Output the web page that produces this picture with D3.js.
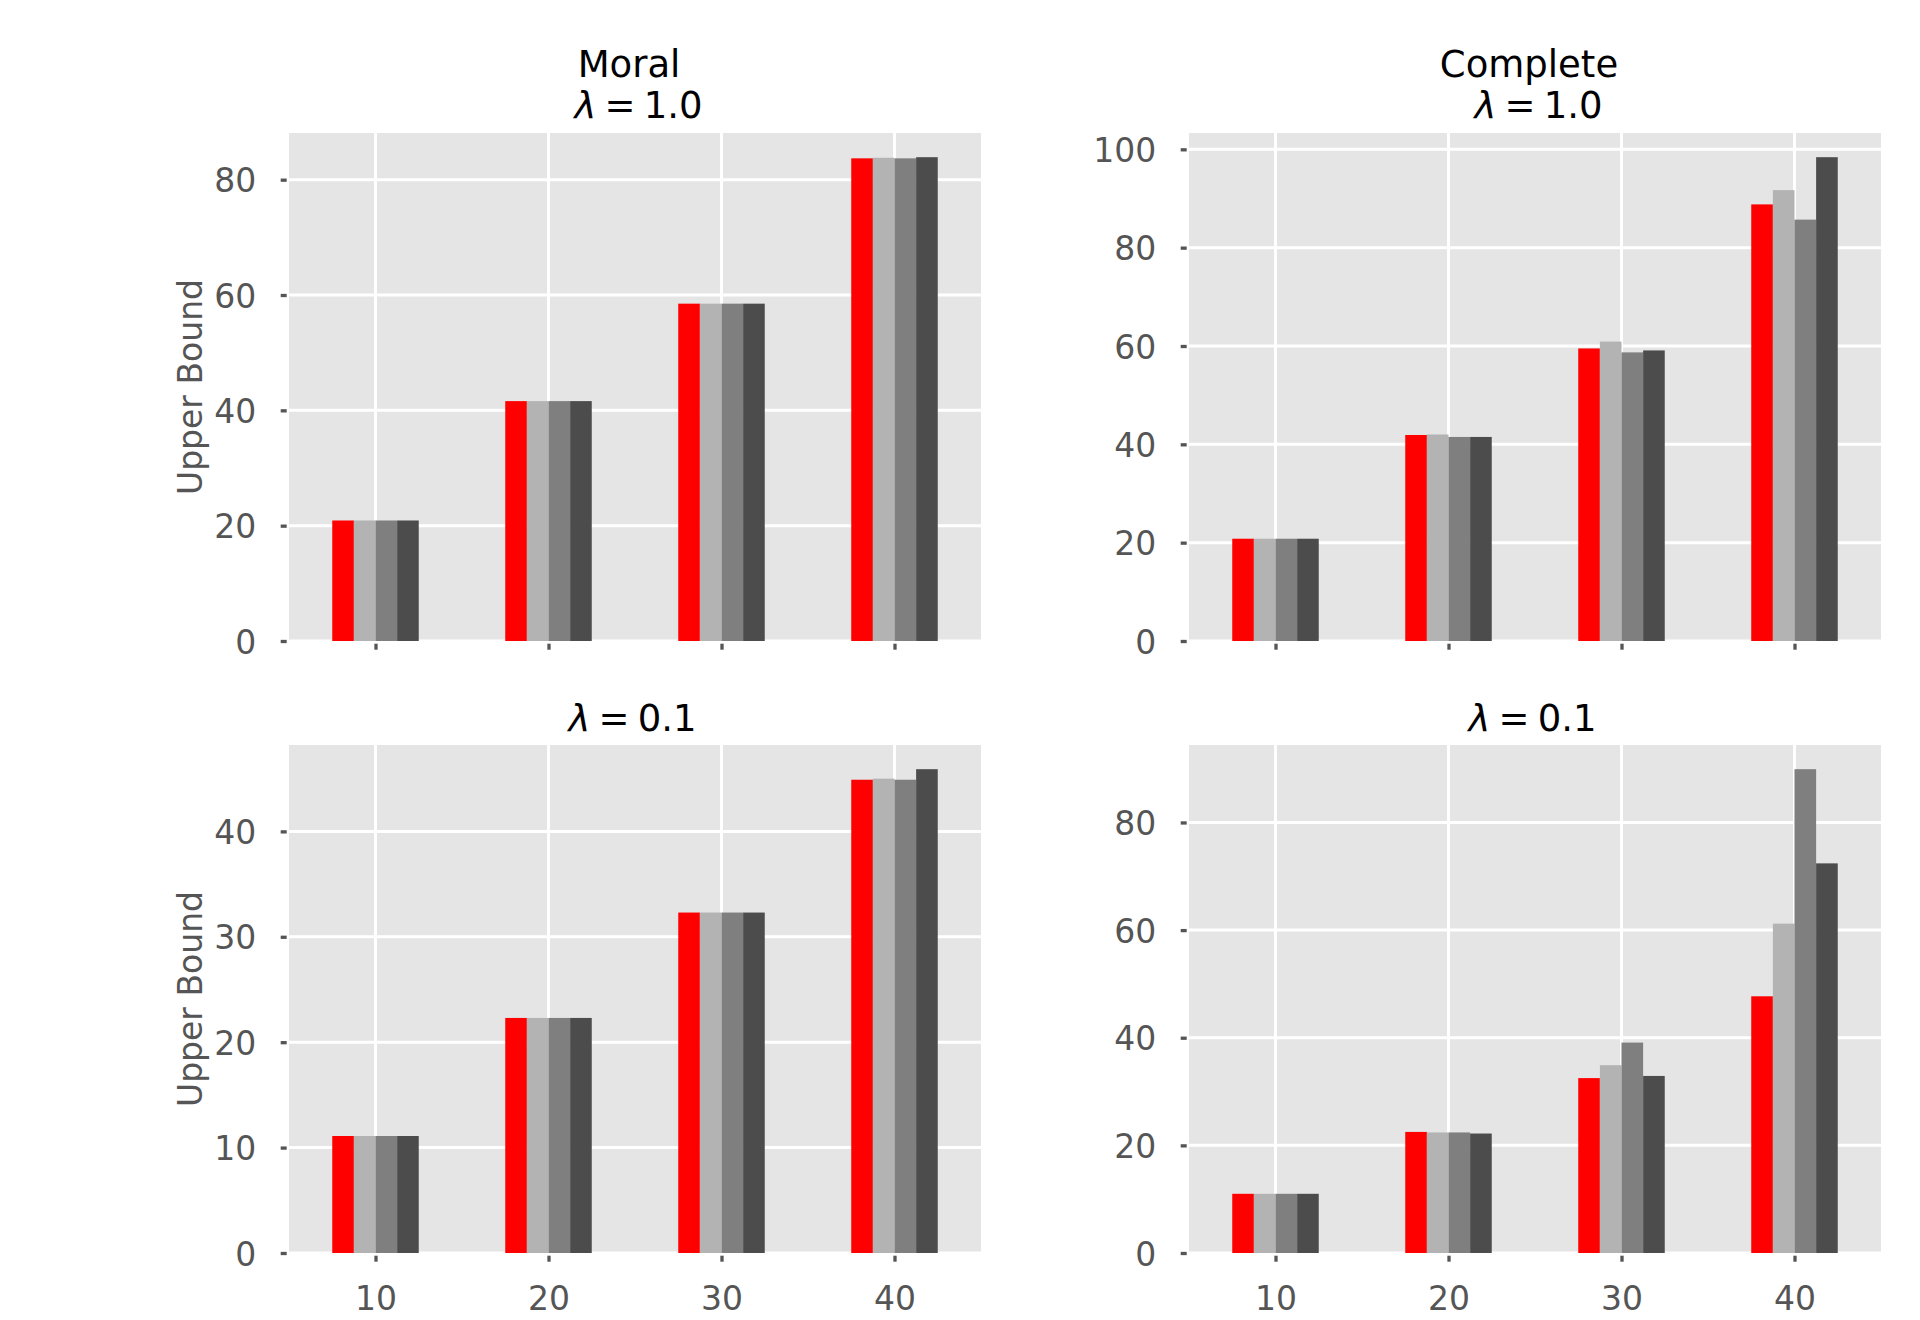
<!DOCTYPE html>
<html>
<head>
<meta charset="utf-8">
<script src="https://cdn.jsdelivr.net/npm/d3@7"></script>
<style>
  html, body { margin: 0; padding: 0; background: #ffffff; }
  svg { display: block; }
  text { font-family: "DejaVu Sans", sans-serif; }
</style>
</head>
<body>
<svg id="chart" width="1920" height="1320"></svg>
<script>
// ---------------- DATA ----------------
const categories = [10, 20, 30, 40];
const seriesColors = ["#ff0000", "#b3b3b3", "#7f7f7f", "#4c4c4c"];

// Each array: one series (row) per colour, values for categories 10,20,30,40
const moralLambda1 = [
  [20.9, 41.6, 58.5, 83.7],
  [20.9, 41.6, 58.5, 83.8],
  [20.9, 41.6, 58.5, 83.7],
  [20.9, 41.6, 58.5, 83.9]
];
const completeLambda1 = [
  [20.8, 41.9, 59.5, 88.8],
  [20.8, 42.0, 60.9, 91.7],
  [20.8, 41.5, 58.7, 85.7],
  [20.8, 41.5, 59.1, 98.4]
];
const moralLambda01 = [
  [11.1, 22.3, 32.3, 44.9],
  [11.1, 22.3, 32.3, 45.0],
  [11.1, 22.3, 32.3, 44.9],
  [11.1, 22.3, 32.3, 45.9]
];
const completeLambda01 = [
  [11.0, 22.5, 32.5, 47.7],
  [11.0, 22.4, 34.9, 61.2],
  [11.0, 22.4, 39.1, 89.9],
  [11.0, 22.2, 32.9, 72.4]
];

const yTicksMoral1 = [0, 20, 40, 60, 80];
const yTicksComplete1 = [0, 20, 40, 60, 80, 100];
const yTicksMoral01 = [0, 10, 20, 30, 40];
const yTicksComplete01 = [0, 20, 40, 60, 80];

const titleLine1 = ["Moral", "Complete", null, null];
const titleLambda = ["1.0", "1.0", "0.1", "0.1"];
const yLabel = "Upper Bound";

// ---------------- LAYOUT ----------------
const cols = [{x0: 289, x1: 981}, {x0: 1189, x1: 1881}];
const rows = [{y0: 133, y1: 641}, {y0: 745, y1: 1253}];

const panels = [
  {data: moralLambda1, ticks: yTicksMoral1, c: 0, r: 0, i: 0},
  {data: completeLambda1, ticks: yTicksComplete1, c: 1, r: 0, i: 1},
  {data: moralLambda01, ticks: yTicksMoral01, c: 0, r: 1, i: 2},
  {data: completeLambda01, ticks: yTicksComplete01, c: 1, r: 1, i: 3}
];

const svg = d3.select("#chart");
const tickColor = "#555555";
const tickFont = 33;
const titleFont = 37;
const barW = 0.125;
const offsets = [-1.5, -0.5, 0.5, 1.5].map(k => k * barW);

panels.forEach(p => {
  const {x0, x1} = cols[p.c];
  const {y0, y1} = rows[p.r];
  const maxV = d3.max(p.data.flat());
  const x = d3.scaleLinear().domain([-0.5, categories.length - 0.5]).range([x0, x1]);
  const y = d3.scaleLinear().domain([0, maxV * 1.05]).range([y1, y0]);

  const g = svg.append("g");
  g.append("rect").attr("x", x0).attr("y", y0)
    .attr("width", x1 - x0).attr("height", y1 - y0).attr("fill", "#e5e5e5");

  g.selectAll(".hg").data(p.ticks).enter().append("line")
    .attr("x1", x0).attr("x2", x1)
    .attr("y1", d => y(d)).attr("y2", d => y(d))
    .attr("stroke", "#ffffff").attr("stroke-width", 3);
  g.selectAll(".vg").data(categories).enter().append("line")
    .attr("x1", (d, i) => x(i)).attr("x2", (d, i) => x(i))
    .attr("y1", y0).attr("y2", y1)
    .attr("stroke", "#ffffff").attr("stroke-width", 3);

  p.data.forEach((series, s) => {
    g.selectAll(".b" + s).data(series).enter().append("rect")
      .attr("x", (d, i) => x(i + offsets[s] - barW / 2))
      .attr("width", (d, i) => x(i + offsets[s] + barW / 2) - x(i + offsets[s] - barW / 2))
      .attr("y", d => y(d))
      .attr("height", d => y(0) - y(d))
      .attr("fill", seriesColors[s]);
  });

  const ya = d3.axisLeft(y).tickValues(p.ticks).tickSizeInner(6).tickSizeOuter(0).tickPadding(24.5)
    .tickFormat(d3.format("d"));
  const yg = svg.append("g").attr("transform", `translate(${x0 - 2.3},0)`).call(ya);
  yg.select(".domain").remove();
  yg.selectAll(".tick line").attr("stroke", tickColor).attr("stroke-width", 3.3);
  yg.selectAll(".tick text").attr("fill", tickColor).attr("font-size", tickFont)
    .attr("font-family", "DejaVu Sans").attr("dy", "0.365em");

  const xa = d3.axisBottom(x).tickValues(categories.map((d, i) => i)).tickSizeInner(6).tickSizeOuter(0)
    .tickPadding(25).tickFormat(i => p.r === 1 ? categories[i] : "");
  const xg = svg.append("g").attr("transform", `translate(0,${y1 + 2.7})`).call(xa);
  xg.select(".domain").remove();
  xg.selectAll(".tick line").attr("stroke", tickColor).attr("stroke-width", 3.3);
  xg.selectAll(".tick text").attr("fill", tickColor).attr("font-size", tickFont)
    .attr("font-family", "DejaVu Sans");

  const cx = (x0 + x1) / 2;
  if (titleLine1[p.i]) {
    svg.append("text").attr("x", cx - 6).attr("y", 76.5)
      .attr("text-anchor", "middle").attr("font-size", titleFont).attr("fill", "#000")
      .text(titleLine1[p.i]);
  }
  const ly = p.r === 0 ? 117.8 : 731;
  const lx = p.r === 0 ? cx + 3.5 : cx - 2.5;
  const t = svg.append("text").attr("x", lx).attr("y", ly)
    .attr("text-anchor", "middle").attr("font-size", titleFont).attr("fill", "#000");
  t.append("tspan").attr("font-style", "italic").text("λ");
  t.append("tspan").attr("dx", "0.22em").text("=");
  t.append("tspan").attr("dx", "0.22em").text(titleLambda[p.i]);

  if (p.c === 0) {
    svg.append("text")
      .attr("transform", `translate(201.7,${(y0 + y1) / 2}) rotate(-90)`)
      .attr("text-anchor", "middle").attr("font-size", 33).attr("fill", tickColor)
      .text(yLabel);
  }
});
</script>
</body>
</html>
